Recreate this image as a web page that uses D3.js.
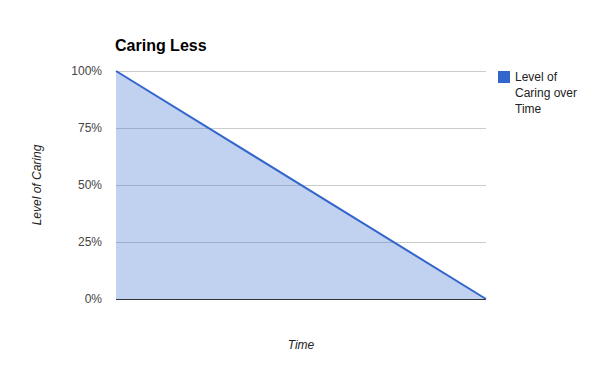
<!DOCTYPE html>
<html><head><meta charset="utf-8">
<script src="https://cdn.jsdelivr.net/npm/d3@7"></script>
<style>body{margin:0;background:#fff}svg{display:block;font-family:"Liberation Sans",Arial,sans-serif}</style>
</head><body><svg id="c" width="600" height="371"></svg>
<script>
const categories = ["Start", "End"];
const caring = [1.0, 0.0];
const yTicks = [0, 0.25, 0.5, 0.75, 1.0];
const seriesName = ["Level of", "Caring over", "Time"];

(function () {
const svg = d3.select("#c");
const pL = 116, pR = 486, pT = 71, pB = 299;
const x = d3.scalePoint().domain(categories).range([pL, pR]);
const y = d3.scaleLinear().domain([0, 1]).range([pB, pT]);

svg.append("text").attr("x", 115).attr("y", 51).attr("font-size", 16).attr("font-weight", "bold").attr("fill", "#000").text("Caring Less");

// grid
svg.append("g").selectAll("line").data(yTicks.filter(d => d > 0)).join("line")
  .attr("x1", pL).attr("x2", pR).attr("y1", d => Math.round(y(d)) + 0.5).attr("y2", d => Math.round(y(d)) + 0.5)
  .attr("stroke", "#cccccc").attr("stroke-width", 1);

// tick labels
const yAxis = d3.axisLeft(y).tickValues(yTicks).tickFormat(d3.format(".0%")).tickSize(0).tickPadding(14);
const ag = svg.append("g").attr("transform", `translate(${pL},0)`).call(yAxis);
ag.select(".domain").remove();
ag.selectAll("text").attr("font-size", 12).attr("fill", "#444").attr("font-family", '"Liberation Sans",Arial,sans-serif');

const pts = categories.map((c, i) => ({c, v: caring[i]}));
svg.append("path").datum(pts)
  .attr("d", d3.area().x(d => x(d.c)).y0(y(0)).y1(d => y(d.v)))
  .attr("fill", "#3366cc").attr("fill-opacity", 0.3);
svg.append("line").attr("x1", pL).attr("x2", pR).attr("y1", y(0) + 0.5).attr("y2", y(0) + 0.5).attr("stroke", "#333").attr("stroke-width", 1);
svg.append("path").datum(pts)
  .attr("d", d3.line().x(d => x(d.c)).y(d => y(d.v)))
  .attr("fill", "none").attr("stroke", "#3366cc").attr("stroke-width", 2);

// axis titles
svg.append("text").attr("transform", `translate(41,${(pT + pB) / 2}) rotate(-90)`).attr("text-anchor", "middle")
  .attr("font-size", 12).attr("font-style", "italic").attr("fill", "#222").text("Level of Caring");
svg.append("text").attr("x", (pL + pR) / 2).attr("y", 349).attr("text-anchor", "middle")
  .attr("font-size", 12).attr("font-style", "italic").attr("fill", "#222").text("Time");

// legend
svg.append("rect").attr("x", 498).attr("y", 71).attr("width", 12).attr("height", 12).attr("fill", "#3366cc");
svg.append("g").selectAll("text").data(seriesName).join("text")
  .attr("x", 515).attr("y", (d, i) => 81 + i * 16).attr("font-size", 12).attr("fill", "#222").text(d => d);
})();
</script></body></html>
